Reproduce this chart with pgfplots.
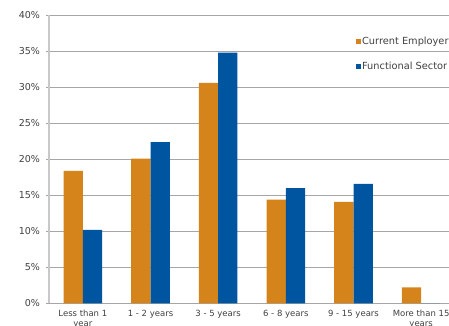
\documentclass[border=0pt]{standalone}
\usepackage{pgfplots}
\pgfplotsset{compat=1.18}
\usepackage{fontspec}
\setmainfont{DejaVu Sans}
\definecolor{empOrange}{HTML}{D4841A}
\definecolor{secBlue}{HTML}{0055A0}
\definecolor{gridGray}{HTML}{A6A6A6}
\definecolor{axisGray}{HTML}{C8C8C8}
\definecolor{labelGray}{HTML}{404040}

\begin{document}
\begin{tikzpicture}
\begin{axis}[
  at={(49pt,22.7pt)}, anchor=south west,
  scale only axis, width=406pt, height=288pt,
  ybar=0pt, bar width=19.3pt,
  xmin=-0.5, xmax=5.5, ymin=0, ymax=40,
  xtick={0,1,2,3,4,5},
  xticklabels={Less than 1\\year, 1 - 2 years, 3 - 5 years, 6 - 8 years, 9 - 15 years, More than 15\\years},
  ytick={0,5,...,40},
  yticklabel={\pgfmathprintnumber{\tick}\%},
  /pgf/number format/assume math mode=true,
  axis x line*=bottom, axis y line*=left,
  ymajorgrids, grid style={gridGray, line width=0.8pt},
  y axis line style={axisGray, line width=1.6pt},
  x axis line style={gridGray, line width=0.8pt},
  tick align=outside, major tick length=3pt,
  ytick style={gridGray, line width=0.8pt},
  xtick style={draw=none},
  yticklabel style={font=\fontsize{9.5}{11}\selectfont, text=labelGray, xshift=-2.5pt},
  xticklabel style={font=\fontsize{8.5}{10.5}\selectfont, text=labelGray, align=center, anchor=north},
  every axis plot post/.append style={
    legend image code/.code={\fill[##1] (0pt,-2.6pt) rectangle (5.2pt,2.6pt);}},
  legend style={draw=none, fill=none, at={(rel axis cs:0.748,0.94)}, anchor=north west,
    font=\fontsize{9.8}{11}\selectfont, text=labelGray, row sep=12pt,
    nodes={inner xsep=1pt}},
  legend cell align=left,
]
\addplot[fill=empOrange, draw=none] coordinates {(0,18.4) (1,20.1) (2,30.6) (3,14.4) (4,14.1) (5,2.2)};
\addplot[fill=secBlue, draw=none] coordinates {(0,10.2) (1,22.4) (2,34.8) (3,16.0) (4,16.6) (5,0)};
\legend{Current Employer, Functional Sector}
\end{axis}
\pgfresetboundingbox
\path[use as bounding box] (0,0) rectangle (449pt,326pt);
\end{tikzpicture}
\end{document}
